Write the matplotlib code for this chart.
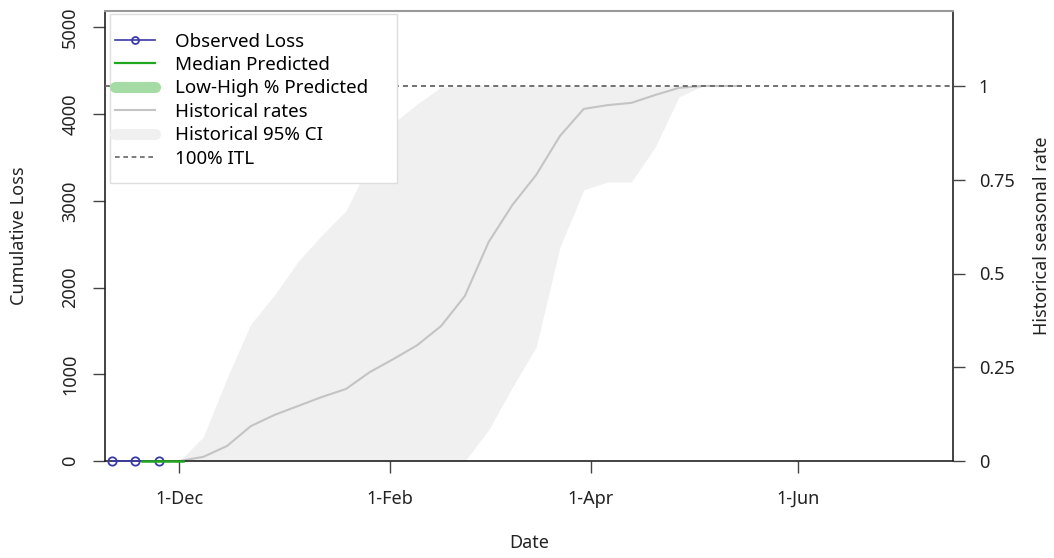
import numpy as np
import pandas as pd
import matplotlib
matplotlib.use("Agg")
import matplotlib.pyplot as plt
from matplotlib.lines import Line2D
from matplotlib.patches import Rectangle

plt.rcParams['font.family'] = ['Noto Sans', 'DejaVu Sans']
plt.rcParams['font.size'] = 13

# dane
itl = 4325.0

obs_dates = pd.to_datetime(["2017-11-11", "2017-11-18", "2017-11-25"])
obs_loss = [0, 0, 0]

pred_dates = pd.to_datetime(["2017-11-20", "2017-12-02"])
pred_median = [0, 0]

hist_dates = pd.to_datetime([
    "2017-12-01", "2017-12-08", "2017-12-15", "2017-12-22", "2017-12-29",
    "2018-01-05", "2018-01-12", "2018-01-19", "2018-01-26", "2018-02-02",
    "2018-02-09", "2018-02-16", "2018-02-23", "2018-03-02", "2018-03-09",
    "2018-03-16", "2018-03-23", "2018-03-30", "2018-04-06", "2018-04-13",
    "2018-04-20", "2018-04-27", "2018-05-04", "2018-05-14"])
hist_rate = [0, 0.011, 0.04, 0.093, 0.123, 0.147, 0.171, 0.192, 0.237, 0.272,
             0.309, 0.36, 0.44, 0.584, 0.683, 0.763, 0.867, 0.939, 0.949, 0.955,
             0.976, 0.995, 1.0, 1.0]
hist_hi = [0, 0.064, 0.221, 0.365, 0.443, 0.533, 0.603, 0.667, 0.795, 0.901,
           0.952, 0.997, 1.0, 1.0, 1.0, 1.0, 1.0, 1.0, 1.0, 1.0,
           1.0, 1.0, 1.0, 1.0]
hist_lo = [0, 0, 0, 0, 0, 0, 0, 0, 0, 0,
           0, 0, 0, 0.083, 0.197, 0.304, 0.571, 0.723, 0.744, 0.744,
           0.837, 0.971, 1.0, 1.0]

xticks = pd.to_datetime(["2017-12-01", "2018-02-01", "2018-04-01", "2018-06-01"])
xticklabels = ["1-Dec", "1-Feb", "1-Apr", "1-Jun"]
yticks = [0, 1000, 2000, 3000, 4000, 5000]
rticks = [0, 0.25, 0.5, 0.75, 1]
rticklabels = ["0", "0.25", "0.5", "0.75", "1"]

c_obs = '#3a3aa8'
c_med = '#1fa81f'
c_band = '#a6dba6'
c_hist = '#c4c4c4'
c_ci = '#f0f0f0'
c_itl = '#666666'
c_txt = '#222222'

fig = plt.figure(figsize=(10.54, 5.58), dpi=100)
ax = fig.add_axes([105/1054, 97/558, 848/1054, 450/558])

hr = np.array(hist_rate)
ax.fill_between(hist_dates, np.array(hist_lo)*itl, np.array(hist_hi)*itl,
                color=c_ci, lw=0, zorder=1)
ax.plot(hist_dates, hr*itl, color=c_hist, lw=1.5, zorder=2)
ax.axhline(itl, color=c_itl, lw=1.3, ls=(0, (2.8, 2.2)), zorder=3)
ax.plot(obs_dates, obs_loss, color=c_obs, lw=1.2, marker='o', ms=6,
        mfc='none', mec=c_obs, mew=1.3, zorder=4, clip_on=False)
ax.plot(pred_dates, pred_median, color=c_med, lw=1.8, zorder=5, clip_on=False)

ax.set_xlim(pd.Timestamp("2017-11-09 02:00"), pd.Timestamp("2018-07-16 16:00"))
ax.set_ylim(0, 1.2*itl)
ax.set_xticks(xticks)
ax.set_xticklabels(xticklabels)
ax.set_yticks(yticks)
ax.set_yticklabels([str(v) for v in yticks], rotation=90, va='center')
ax.tick_params(axis='both', length=8.6, width=1, color='#444444', labelcolor=c_txt)
ax.tick_params(axis='x', pad=12)
ax.tick_params(axis='y', pad=10)
for s in ['left', 'right', 'bottom']:
    ax.spines[s].set_color('#222222')
    ax.spines[s].set_linewidth(1.2)
ax.spines['top'].set_color('#999999')
ax.spines['top'].set_linewidth(1.5)
ax.set_xlabel("Date", labelpad=19, color=c_txt)
ax.set_ylabel("Cumulative Loss", labelpad=24, color=c_txt)

ax2 = ax.twinx()
ax2.set_ylim(0, 1.2)
ax2.set_yticks(rticks)
ax2.set_yticklabels(rticklabels)
ax2.tick_params(axis='y', length=8.6, width=1, color='#444444', labelcolor=c_txt, pad=10)
for s in ax2.spines.values():
    s.set_visible(False)
ax2.set_ylabel("Historical seasonal rate", labelpad=13, color=c_txt)

# ramka legendy
ax2.add_patch(Rectangle((0.006, 0.618), 0.338, 0.375, transform=ax2.transAxes,
                        facecolor='white', edgecolor='#dddddd', lw=1.0, zorder=4))

handles = [
    Line2D([], [], color=c_obs, lw=1.2, marker='o', ms=5, mfc='none', mec=c_obs, mew=1.3),
    Line2D([], [], color=c_med, lw=1.6),
    Line2D([], [], color=c_band, lw=8, solid_capstyle='round'),
    Line2D([], [], color=c_hist, lw=1.5),
    Line2D([], [], color=c_ci, lw=8, solid_capstyle='round'),
    Line2D([], [], color=c_itl, lw=1.2, ls=(0, (2.8, 2.2))),
]
labels = ["Observed Loss", "Median Predicted", "Low-High % Predicted",
          "Historical rates", "Historical 95% CI", "100% ITL"]
leg = ax2.legend(handles, labels, loc='upper left', bbox_to_anchor=(0.0118, 0.952),
                 borderaxespad=0, frameon=False, borderpad=0,
                 handlelength=2.15, handletextpad=1.05, labelspacing=0.29,
                 fontsize=13.5)
leg.set_zorder(5)

fig.savefig("out.png", dpi=100)
